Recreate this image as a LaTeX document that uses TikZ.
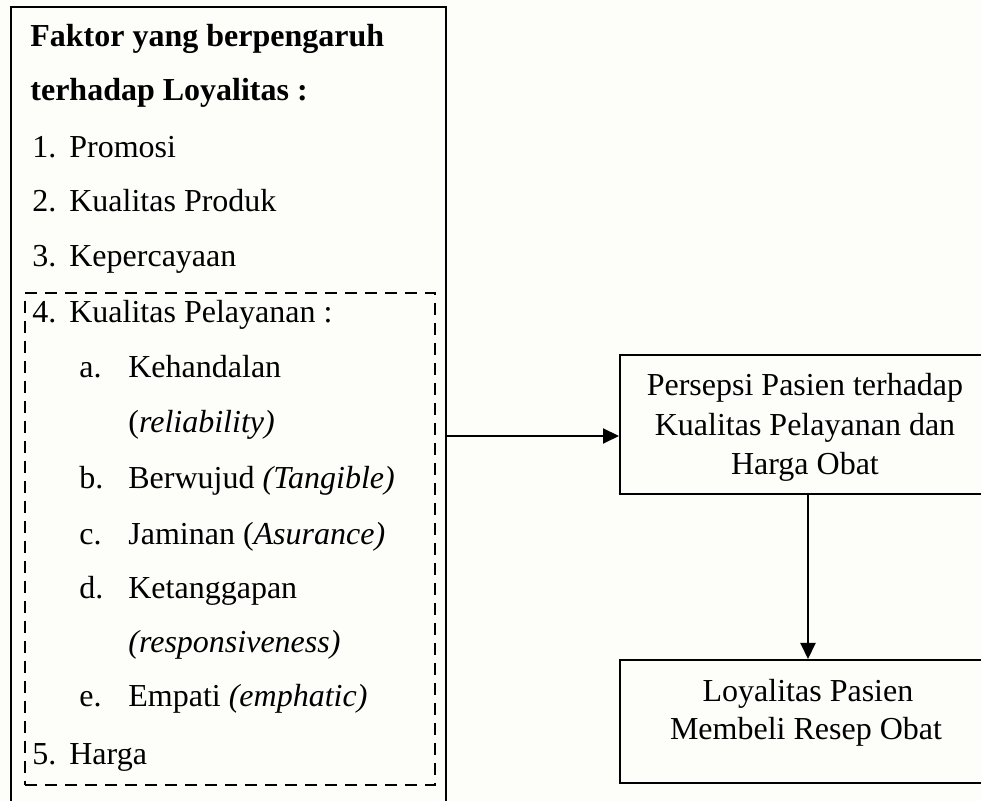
\documentclass[tikz,border=0pt]{standalone}
\usepackage{fontspec}
\setmainfont{Liberation Serif}
\usetikzlibrary{arrows.meta}
\definecolor{paper}{RGB}{253,253,249}
\begin{document}
\begin{tikzpicture}[x=0.5pt,y=-0.5pt,
  txt/.style={anchor=base west,inner sep=0pt,font=\fontsize{16pt}{20pt}\selectfont},
  ctxt/.style={anchor=base,inner sep=0pt,font=\fontsize{16pt}{20pt}\selectfont},
  frame/.style={draw,line width=1pt,inner sep=0pt},
  dframe/.style={draw,line width=1pt,inner sep=0pt,dash pattern=on 6pt off 4pt},
  arr/.style={line width=1pt,-{Triangle[length=8pt,width=7.5pt]}}]
\useasboundingbox (0,0) rectangle (981,801);
\fill[paper] (0,0) rectangle (981,801);
\clip (0,0) rectangle (981,801);
% left frame (open at the bottom, beyond the page)
\node[frame,minimum width=217.5pt,minimum height=411.5pt] (left) at (228.5,418.5) {};
\node[dframe,minimum width=205pt,minimum height=246pt] (dash) at (230,539) {};
% texts of the left frame
\node[txt,font=\fontsize{16pt}{20pt}\selectfont\bfseries] (h1) at (30,47) {Faktor yang berpengaruh};
\node[txt,font=\fontsize{16pt}{20pt}\selectfont\bfseries] (h2) at (30,101) {terhadap Loyalitas :};
\node[txt] (i1) at (32,158) {\makebox[18.5pt][l]{1.}Promosi};
\node[txt] (i2) at (32,212) {\makebox[18.5pt][l]{2.}Kualitas Produk};
\node[txt] (i3) at (32,267) {\makebox[18.5pt][l]{3.}Kepercayaan};
\node[txt] (i4) at (32,323) {\makebox[18.5pt][l]{4.}Kualitas Pelayanan :};
\node[txt] (ia) at (79,378) {\makebox[24.5pt][l]{a.}Kehandalan};
\node[txt] (iar) at (128,433) {(\textit{reliability)}};
\node[txt] (ib) at (79,489) {\makebox[24.5pt][l]{b.}Berwujud \textit{(Tangible)}};
\node[txt] (ic) at (79,545) {\makebox[24.5pt][l]{c.}Jaminan (\textit{Asurance)}};
\node[txt] (id) at (79,599) {\makebox[24.5pt][l]{d.}Ketanggapan};
\node[txt] (idr) at (128,653) {\textit{(responsiveness)}};
\node[txt] (ie) at (79,707) {\makebox[24.5pt][l]{e.}Empati \textit{(emphatic)}};
\node[txt] (i5) at (32,765) {\makebox[18.5pt][l]{5.}Harga};
% right boxes (running past the right edge)
\node[frame,minimum width=186pt,minimum height=69.5pt] (p1) at (806,424.5) {};
\node[ctxt] (p1a) at (805,396) {Persepsi Pasien terhadap};
\node[ctxt] (p1b) at (805,436) {Kualitas Pelayanan dan};
\node[ctxt] (p1c) at (805,475) {Harga Obat};
\node[frame,minimum width=186pt,minimum height=61.5pt] (p2) at (806,721.5) {};
\node[ctxt] (p2a) at (808,702) {Loyalitas Pasien};
\node[ctxt] (p2b) at (806,740) {Membeli Resep Obat};
% connectors
\coordinate (ay) at (0,436);
\draw[arr] (left.east |- ay) -- (p1.west |- ay);
\coordinate (ax) at (808,0);
\draw[arr] (p1.south -| ax) -- (p2.north -| ax);
\end{tikzpicture}
\end{document}
